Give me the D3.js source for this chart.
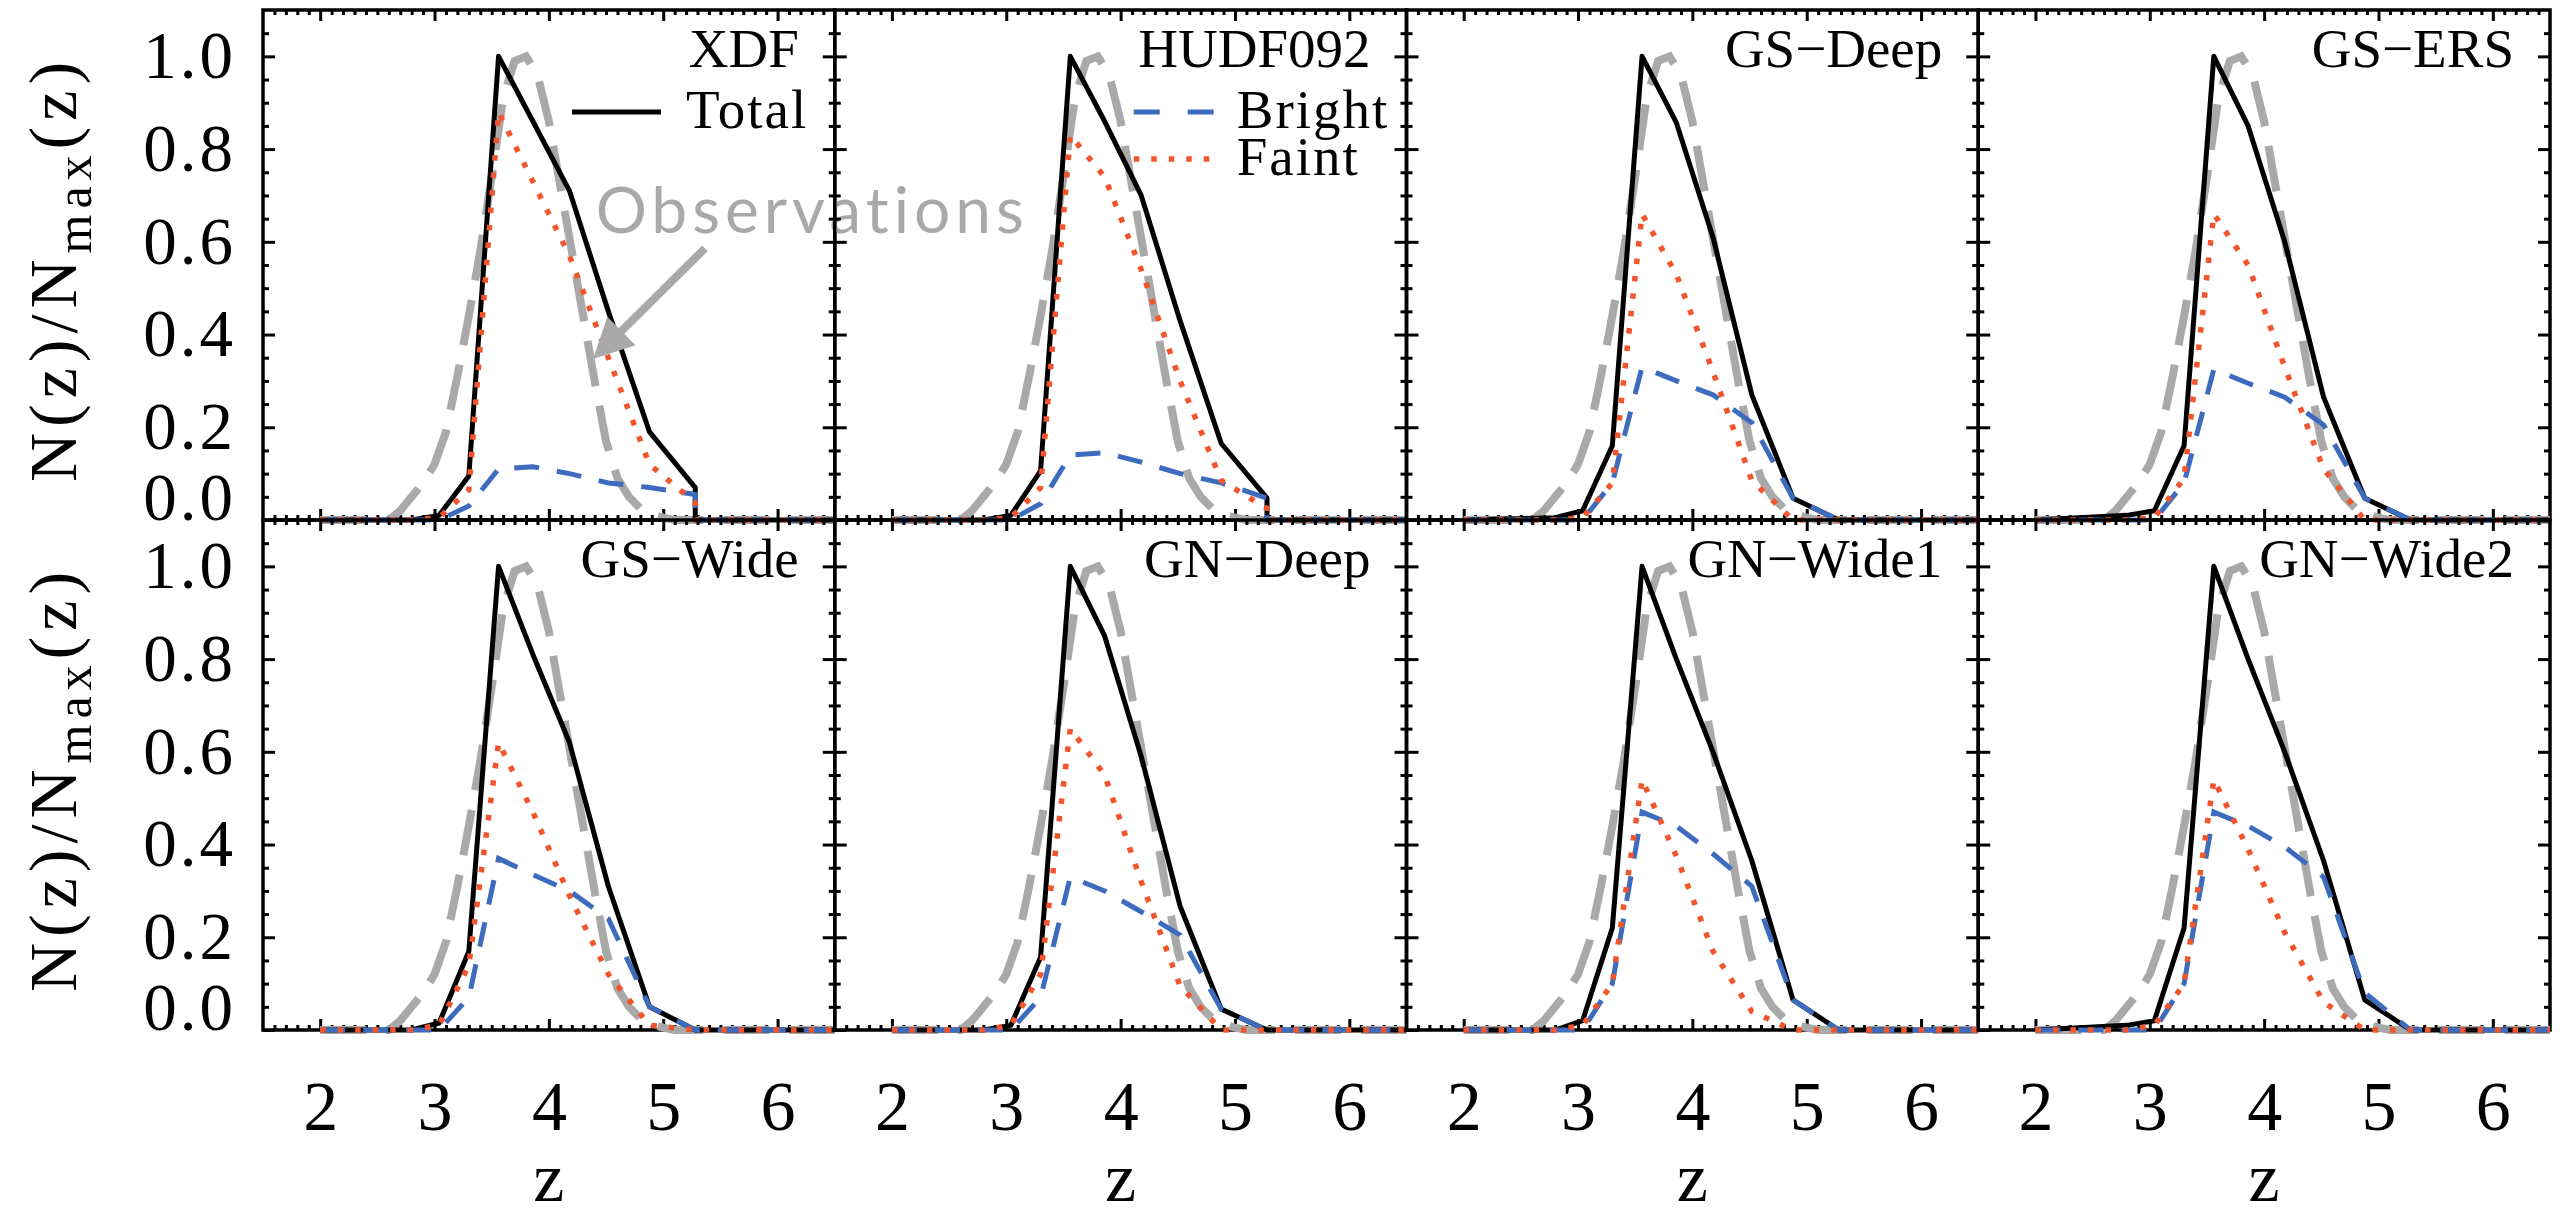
<!DOCTYPE html>
<html>
<head>
<meta charset="utf-8">
<script src="https://cdn.jsdelivr.net/npm/d3@7"></script>
<style>
  body { margin: 0; background: #fff; }
  svg { display: block; }
</style>
</head>
<body>
<svg id="chart" width="2567" height="1216"></svg>
<script>
/* ---- data ---- */
var fields = ["XDF", "HUDF092", "GS\u2212Deep", "GS\u2212ERS",
              "GS\u2212Wide", "GN\u2212Deep", "GN\u2212Wide1", "GN\u2212Wide2"];

var zTicks = [2, 3, 4, 5, 6];
var yTicks = [0, 0.2, 0.4, 0.6, 0.8, 1.0];

// redshift nodes of the model N(z) (5.28 twice: XDF/HUDF092 drop straight down)
var zNodes = [2.00, 2.80, 3.04, 3.30, 3.56, 3.86, 4.18, 4.52, 4.88, 5.28, 5.28, 6.50];

// Total (black solid), one row per field
var totalN = [
  [0, 0,     0.01,  0.095, 1.0, 0.86,  0.71,  0.45,  0.19,  0.07,  0, 0],  // XDF
  [0, 0,     0.01,  0.106, 1.0, 0.86,  0.70,  0.43,  0.165, 0.047, 0, 0],  // HUDF092
  [0, 0.005, 0.02,  0.16,  1.0, 0.857, 0.61,  0.27,  0.047, 0,     0, 0],  // GS-Deep
  [0, 0.01,  0.02,  0.16,  1.0, 0.85,  0.60,  0.265, 0.047, 0,     0, 0],  // GS-ERS
  [0, 0,     0.015, 0.17,  1.0, 0.81,  0.62,  0.31,  0.05,  0,     0, 0],  // GS-Wide
  [0, 0,     0.01,  0.157, 1.0, 0.85,  0.59,  0.267, 0.045, 0,     0, 0],  // GN-Deep
  [0, 0,     0.02,  0.22,  1.0, 0.80,  0.60,  0.365, 0.065, 0,     0, 0],  // GN-Wide1
  [0, 0.01,  0.02,  0.22,  1.0, 0.80,  0.60,  0.365, 0.065, 0,     0, 0]   // GN-Wide2
];

// Bright (blue dashed)
var brightN = [
  [0, 0, 0, 0.03,  0.11,  0.115, 0.10,  0.08,  0.07,  0.055, 0, 0],
  [0, 0, 0, 0.035, 0.14,  0.145, 0.125, 0.10,  0.08,  0.047, 0, 0],
  [0, 0, 0, 0.08,  0.33,  0.30,  0.27,  0.21,  0.047, 0,     0, 0],
  [0, 0, 0, 0.08,  0.325, 0.295, 0.265, 0.205, 0.047, 0,     0, 0],
  [0, 0, 0, 0.07,  0.37,  0.335, 0.30,  0.24,  0.05,  0,     0, 0],
  [0, 0, 0, 0.07,  0.33,  0.30,  0.255, 0.205, 0.045, 0,     0, 0],
  [0, 0, 0, 0.10,  0.47,  0.44,  0.38,  0.31,  0.065, 0,     0, 0],
  [0, 0, 0, 0.10,  0.47,  0.44,  0.395, 0.33,  0.08,  0,     0, 0]
];

// Faint (red dotted)
var faintN = [
  [0, 0, 0.005, 0.065, 0.88, 0.73,  0.57, 0.35,  0.12,  0.037, 0, 0],
  [0, 0, 0.005, 0.07,  0.83, 0.74,  0.54, 0.30,  0.085, 0.025, 0, 0],
  [0, 0, 0.005, 0.08,  0.66, 0.53,  0.32, 0.085, 0,     0,     0, 0],
  [0, 0, 0.005, 0.09,  0.66, 0.55,  0.33, 0.11,  0,     0,     0, 0],
  [0, 0, 0.01,  0.14,  0.62, 0.47,  0.29, 0.12,  0.01,  0,     0, 0],
  [0, 0, 0.01,  0.12,  0.65, 0.55,  0.32, 0.095, 0,     0,     0, 0],
  [0, 0, 0.01,  0.10,  0.54, 0.375, 0.17, 0.04,  0,     0,     0, 0],
  [0, 0, 0.01,  0.10,  0.54, 0.39,  0.21, 0.06,  0,     0,     0, 0]
];

// Observations (grey long dash), same in every panel
var zObs = [2.0, 2.6, 2.7, 2.8, 2.9, 3.0, 3.1, 3.2, 3.3, 3.4, 3.5, 3.6, 3.7, 3.8,
            3.9, 4.0, 4.1, 4.2, 4.3, 4.4, 4.5, 4.6, 4.7, 4.8, 4.9, 5.0, 5.1, 6.5];
var obsN = [0, 0, 0.02, 0.05, 0.08, 0.12, 0.19, 0.31, 0.44, 0.58, 0.74, 0.91, 0.99, 1.0,
            0.96, 0.86, 0.72, 0.58, 0.44, 0.30, 0.17, 0.09, 0.05, 0.025, 0.012, 0.005, 0, 0];

/* ---- layout ---- */
var W = 2567, H = 1216;
var padLeft = 263, padTop = 10, panelW = 571.75, panelH = 510;
var serif = "'Liberation Serif', 'DejaVu Serif', serif";
var colors = {total: "#000000", bright: "#3d6bbd", faint: "#f2552b", obs: "#a9a9a9"};

var x = d3.scaleLinear().domain([1.5, 6.5]).range([0, panelW]);
var y = d3.scaleLinear().domain([0, 1.1]).range([panelH, 0]);

var minorX = d3.range(16, 65).filter(function (d) { return d % 10 !== 0; }).map(function (d) { return d / 10; });
var minorY = d3.range(1, 22).filter(function (d) { return d % 4 !== 0; }).map(function (d) { return d / 20; });

var svg = d3.select("#chart");
svg.append("rect").attr("width", W).attr("height", H).attr("fill", "#fff");

function styleAxis(sel) {
    sel.select(".domain").remove();
    sel.selectAll(".tick line").attr("stroke", "#000").attr("stroke-width", 3);
}

// draws the four framed sides of one panel, ticks pointing inward
function drawAxes(g, col, row) {
    var showX = row === 1, showY = col === 0;

    // bottom
    g.append("g").attr("transform", "translate(0," + panelH + ")")
        .call(d3.axisBottom(x).tickValues(minorX).tickSize(-5).tickFormat(""))
        .call(styleAxis);
    var bx = g.append("g").attr("transform", "translate(0," + panelH + ")")
        .call(d3.axisBottom(x).tickValues(zTicks).tickSize(-11).tickPadding(50)
              .tickFormat(showX ? d3.format("d") : ""))
        .call(styleAxis);
    bx.selectAll("text").attr("font-family", serif).attr("font-size", 70).attr("fill", "#000");

    // top
    g.append("g").call(d3.axisTop(x).tickValues(minorX).tickSize(-5).tickFormat("")).call(styleAxis);
    g.append("g").call(d3.axisTop(x).tickValues(zTicks).tickSize(-11).tickFormat("")).call(styleAxis);

    // left
    g.append("g").call(d3.axisLeft(y).tickValues(minorY).tickSize(-6).tickFormat("")).call(styleAxis);
    var ly = g.append("g")
        .call(d3.axisLeft(y).tickValues(yTicks).tickSize(-12).tickPadding(27)
              .tickFormat(showY ? d3.format(".1f") : ""))
        .call(styleAxis);
    ly.selectAll("text").attr("font-family", serif).attr("font-size", 67)
        .attr("letter-spacing", 3).attr("fill", "#000")
        .attr("transform", function (d) { return d === 0 ? "translate(0,-22)" : null; });

    // right
    g.append("g").attr("transform", "translate(" + panelW + ",0)")
        .call(d3.axisRight(y).tickValues(minorY).tickSize(-6).tickFormat("")).call(styleAxis);
    g.append("g").attr("transform", "translate(" + panelW + ",0)")
        .call(d3.axisRight(y).tickValues(yTicks).tickSize(-12).tickFormat("")).call(styleAxis);

    // frame
    g.append("rect").attr("width", panelW).attr("height", panelH)
        .attr("fill", "none").attr("stroke", "#000").attr("stroke-width", 3.5);

    if (showX) {
        g.append("text").attr("x", panelW / 2).attr("y", 1201 - padTop - panelH)
            .attr("text-anchor", "middle").attr("font-family", serif).attr("font-size", 70)
            .text("z");
    }
}

var nodeLine = d3.line()
    .x(function (d, k) { return x(zNodes[k]); })
    .y(function (d) { return y(d); });

var obsLine = d3.line()
    .x(function (d, k) { return x(zObs[k]); })
    .y(function (d) { return y(d); });

fields.forEach(function (name, i) {
    var col = i % 4, row = Math.floor(i / 4);
    var g = svg.append("g")
        .attr("transform", "translate(" + (padLeft + col * panelW) + "," + (padTop + row * panelH) + ")");

    drawAxes(g, col, row);

    // observations
    g.append("path").attr("d", obsLine(obsN))
        .attr("fill", "none").attr("stroke", colors.obs).attr("stroke-width", 8)
        .attr("stroke-dasharray", "46,20");

    // total
    g.append("path").attr("d", nodeLine(totalN[i]))
        .attr("fill", "none").attr("stroke", colors.total).attr("stroke-width", 5)
        .attr("stroke-linejoin", "round");

    // bright
    g.append("path").attr("d", nodeLine(brightN[i]))
        .attr("fill", "none").attr("stroke", colors.bright).attr("stroke-width", 5)
        .attr("stroke-dasharray", "25,18");

    // faint
    g.append("path").attr("d", nodeLine(faintN[i]))
        .attr("fill", "none").attr("stroke", colors.faint).attr("stroke-width", 5.5)
        .attr("stroke-dasharray", "5.5,12");

    // field name
    g.append("text").attr("x", panelW - 36).attr("y", 57)
        .attr("text-anchor", "end").attr("font-family", serif).attr("font-size", 55)
        .text(name);

    if (i === 0) {
        // legend: Total
        g.append("line").attr("x1", 309).attr("x2", 398).attr("y1", 102).attr("y2", 102)
            .attr("stroke", colors.total).attr("stroke-width", 5);
        g.append("text").attr("x", 423).attr("y", 118)
            .attr("font-family", serif).attr("font-size", 55).attr("letter-spacing", 2).text("Total");

        // Observations annotation, placed in data coordinates of this panel
        var tip = [x(4.386), y(0.347)], tail = [x(5.365), y(0.586)];
        var dx = tip[0] - tail[0], dy = tip[1] - tail[1], len = Math.sqrt(dx * dx + dy * dy);
        var ux = dx / len, uy = dy / len, headL = 40, headW = 20;
        var base = [tip[0] - ux * headL, tip[1] - uy * headL];
        g.append("line").attr("x1", tail[0]).attr("y1", tail[1])
            .attr("x2", base[0] + ux * 4).attr("y2", base[1] + uy * 4)
            .attr("stroke", colors.obs).attr("stroke-width", 8);
        g.append("polygon")
            .attr("points", [tip,
                             [base[0] - uy * headW, base[1] + ux * headW],
                             [base[0] + uy * headW, base[1] - ux * headW]].join(" "))
            .attr("fill", colors.obs);
        g.append("text").attr("x", x(4.41)).attr("y", y(0.62))
            .attr("font-family", "Lato, 'Open Sans', sans-serif").attr("font-size", 64)
            .attr("letter-spacing", 5).attr("fill", colors.obs)
            .text("Observations");
    }

    if (i === 1) {
        // legend: Bright, Faint
        g.append("line").attr("x1", 299).attr("x2", 382).attr("y1", 102).attr("y2", 102)
            .attr("stroke", colors.bright).attr("stroke-width", 5).attr("stroke-dasharray", "26,28");
        g.append("text").attr("x", 402).attr("y", 118)
            .attr("font-family", serif).attr("font-size", 55).attr("letter-spacing", 2).text("Bright");
        g.append("line").attr("x1", 299).attr("x2", 382).attr("y1", 149).attr("y2", 149)
            .attr("stroke", colors.faint).attr("stroke-width", 5.5).attr("stroke-dasharray", "5.5,12");
        g.append("text").attr("x", 402).attr("y", 165)
            .attr("font-family", serif).attr("font-size", 55).attr("letter-spacing", 2).text("Faint");
    }
});

// y-axis titles, one per row
[0, 1].forEach(function (row) {
    var t = svg.append("text")
        .attr("transform", "translate(76," + (padTop + row * panelH + panelH / 2 + 4) + ") rotate(-90)")
        .attr("text-anchor", "middle").attr("font-family", serif).attr("font-size", 68)
        .attr("letter-spacing", 6);
    t.append("tspan").text("N(z)/N");
    t.append("tspan").attr("font-size", 50).attr("dy", 15).text("max");
    t.append("tspan").attr("dy", -15).text("(z)");
});
</script>
</body>
</html>
